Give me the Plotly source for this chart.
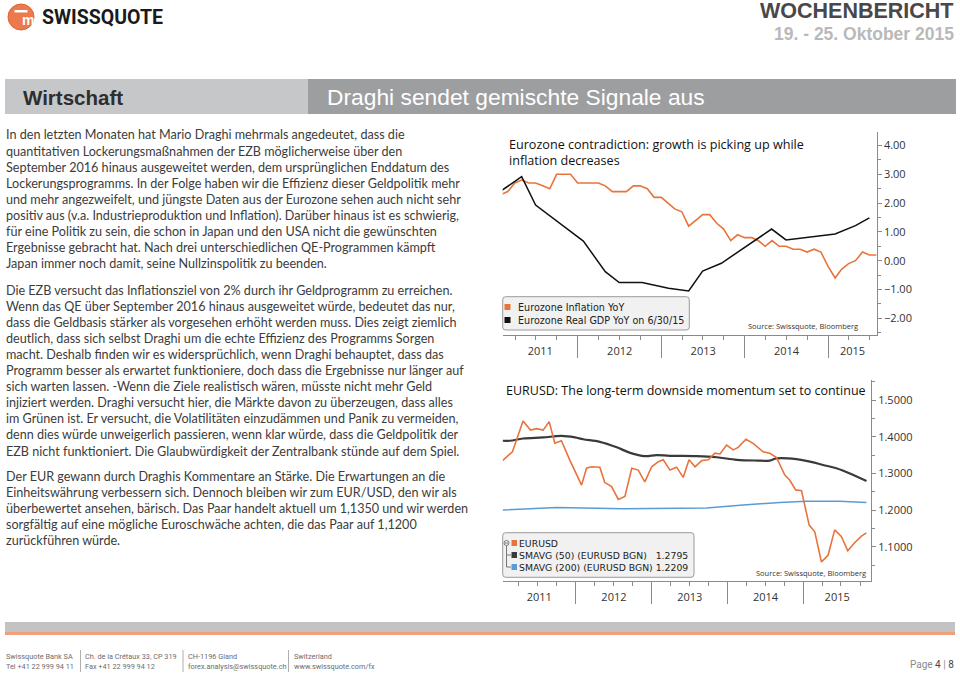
import plotly.graph_objects as go
import pandas as pd

W, H = 960, 676


def px(x):
    return x / W


def py(y):
    return 1 - y / H


# ---------------- DATA ----------------
years = [2011, 2012, 2013, 2014, 2015]

infl_dates = pd.date_range("2011-01-31", periods=55, freq=pd.offsets.MonthEnd())
infl_values = [2.3, 2.4, 2.7, 2.8, 2.7, 2.7, 2.6, 2.5, 3.0, 3.0, 3.0, 2.7,
               2.7, 2.7, 2.7, 2.6, 2.4, 2.4, 2.4, 2.6, 2.6, 2.5, 2.2, 2.2,
               2.0, 1.8, 1.7, 1.2, 1.4, 1.6, 1.6, 1.3, 1.1, 0.7, 0.9, 0.8,
               0.8, 0.7, 0.5, 0.7, 0.5, 0.5, 0.4, 0.4, 0.3, 0.4, 0.3, -0.2,
               -0.6, -0.3, -0.1, 0.0, 0.3, 0.2, 0.2]

gdp_dates = ["2011-01-31", "2011-04-30", "2011-06-30", "2011-09-30", "2012-01-25",
             "2012-04-30", "2012-06-30", "2012-10-08", "2013-02-01", "2013-04-30",
             "2013-06-30", "2013-09-20", "2014-04-28", "2014-06-30", "2015-01-31",
             "2015-04-30", "2015-06-30"]
gdp_values = [2.43, 2.92, 1.93, 1.38, 0.68, -0.38, -0.76, -0.76, -0.96, -1.05,
              -0.36, -0.09, 1.10, 0.72, 0.93, 1.22, 1.49]

eur_dates = ["2011-01-12", "2011-03-01", "2011-04-21", "2011-05-27", "2011-06-25",
             "2011-07-27", "2011-08-25", "2011-09-21", "2011-10-23", "2011-12-02",
             "2012-01-28", "2012-02-21", "2012-03-16", "2012-04-25", "2012-05-19",
             "2012-06-21", "2012-07-23", "2012-08-24", "2012-09-26", "2012-10-27",
             "2012-11-28", "2012-12-31", "2013-02-01", "2013-02-25", "2013-03-29",
             "2013-04-30", "2013-06-01", "2013-06-29", "2013-07-28", "2013-08-29",
             "2013-09-30", "2013-11-01", "2013-11-25", "2013-12-27", "2014-01-28",
             "2014-02-21", "2014-03-30", "2014-05-04", "2014-06-21", "2014-07-23",
             "2014-08-24", "2014-10-03", "2014-10-27", "2014-11-25", "2014-12-23",
             "2015-01-29", "2015-02-25", "2015-03-29", "2015-04-30", "2015-06-01",
             "2015-07-03", "2015-08-03", "2015-09-05", "2015-10-08", "2015-11-01"]
eur_values = [1.335, 1.359, 1.443, 1.418, 1.422, 1.418, 1.441, 1.382, 1.389, 1.337,
              1.268, 1.314, 1.318, 1.317, 1.275, 1.264, 1.229, 1.237, 1.314, 1.309,
              1.277, 1.318, 1.332, 1.337, 1.309, 1.317, 1.289, 1.337, 1.318, 1.335,
              1.337, 1.355, 1.353, 1.377, 1.364, 1.371, 1.393, 1.382, 1.359, 1.355,
              1.344, 1.296, 1.282, 1.255, 1.253, 1.159, 1.141, 1.059, 1.077, 1.146,
              1.128, 1.089, 1.111, 1.129, 1.138]

sma50_dates = ["2011-01-12", "2011-02-17", "2011-04-21", "2011-07-27", "2011-10-23",
               "2011-12-27", "2012-02-05", "2012-04-25", "2012-07-16", "2012-09-18",
               "2012-11-28", "2013-01-24", "2013-03-29", "2013-08-05", "2013-11-09",
               "2014-02-14", "2014-05-21", "2014-07-23", "2014-08-24", "2014-11-28",
               "2015-02-01", "2015-04-06", "2015-06-09", "2015-08-13", "2015-11-01"]
sma50_values = [1.389, 1.389, 1.395, 1.398, 1.402, 1.398, 1.393, 1.386, 1.371, 1.356,
                1.347, 1.350, 1.348, 1.347, 1.344, 1.337, 1.335, 1.335, 1.341, 1.339,
                1.332, 1.323, 1.314, 1.300, 1.2795]

sma200_dates = ["2011-01-12", "2011-09-29", "2012-08-16", "2013-09-22", "2014-03-17",
                "2014-09-09", "2015-01-16", "2015-06-25", "2015-11-01"]
sma200_values = [1.200, 1.207, 1.204, 1.206, 1.214, 1.221, 1.224, 1.224, 1.2209]

y1_ticks = [-2, -1, 0, 1, 2, 3, 4]
y2_ticks = [1.1, 1.2, 1.3, 1.4, 1.5]

legend1 = [("Eurozone Inflation YoY", "#e8743b"),
           ("Eurozone Real GDP YoY on 6/30/15", "#111111")]
legend2 = [("EURUSD", "#e8743b"),
           ("SMAVG (50) (EURUSD BGN)&nbsp;&nbsp;&nbsp;1.2795", "#3a3a3a"),
           ("SMAVG (200) (EURUSD BGN) 1.2209", "#5b9bd5")]

para1 = [
    "In den letzten Monaten hat Mario Draghi mehrmals angedeutet, dass die",
    "quantitativen Lockerungsmaßnahmen der EZB möglicherweise über den",
    "September 2016 hinaus ausgeweitet werden, dem ursprünglichen Enddatum des",
    "Lockerungsprogramms. In der Folge haben wir die Effizienz dieser Geldpolitik mehr",
    "und mehr angezweifelt, und jüngste Daten aus der Eurozone sehen auch nicht sehr",
    "positiv aus (v.a. Industrieproduktion und Inflation). Darüber hinaus ist es schwierig,",
    "für eine Politik zu sein, die schon in Japan und den USA nicht die gewünschten",
    "Ergebnisse gebracht hat. Nach drei unterschiedlichen QE-Programmen kämpft",
    "Japan immer noch damit, seine Nullzinspolitik zu beenden.",
]
para2 = [
    "Die EZB versucht das Inflationsziel von 2% durch ihr Geldprogramm zu erreichen.",
    "Wenn das QE über September 2016 hinaus ausgeweitet würde, bedeutet das nur,",
    "dass die Geldbasis stärker als vorgesehen erhöht werden muss. Dies zeigt ziemlich",
    "deutlich, dass sich selbst Draghi um die echte Effizienz des Programms Sorgen",
    "macht. Deshalb finden wir es widersprüchlich, wenn Draghi behauptet, dass das",
    "Programm besser als erwartet funktioniere, doch dass die Ergebnisse nur länger auf",
    "sich warten lassen. -Wenn die Ziele realistisch wären, müsste nicht mehr Geld",
    "injiziert werden. Draghi versucht hier, die Märkte davon zu überzeugen, dass alles",
    "im Grünen ist. Er versucht, die Volatilitäten einzudämmen und Panik zu vermeiden,",
    "denn dies würde unweigerlich passieren, wenn klar würde, dass die Geldpolitik der",
    "EZB nicht funktioniert. Die Glaubwürdigkeit der Zentralbank stünde auf dem Spiel.",
]
para3 = [
    "Der EUR gewann durch Draghis Kommentare an Stärke. Die Erwartungen an die",
    "Einheitswährung verbessern sich. Dennoch bleiben wir zum EUR/USD, den wir als",
    "überbewertet ansehen, bärisch. Das Paar handelt aktuell um 1,1350 und wir werden",
    "sorgfältig auf eine mögliche Euroschwäche achten, die das Paar auf 1,1200",
    "zurückführen würde.",
]

footer_cols = [
    (5, "Swissquote Bank SA", "Tel +41 22 999 94 11"),
    (84, "Ch. de la Crétaux 33, CP 319", "Fax +41 22 999 94 12"),
    (187, "CH-1196 Gland", "forex.analysis@swissquote.ch"),
    (293, "Switzerland", "www.swissquote.com/fx"),
]

# ---------------- STYLE ----------------
ORANGE = "#e8743b"
AXIS = "#8a8a8a"
TICKF = dict(family="Open Sans, DejaVu Sans, sans-serif", size=11, color="#333333")
CHARTF = "Open Sans, DejaVu Sans, sans-serif"
LEGF = "DejaVu Sans, Open Sans, sans-serif"
BODYF = "Lato, Noto Sans, sans-serif"
BODYC = "#3c3c3c"

range1 = ["2011-02-06", "2015-08-01"]
range2 = ["2011-01-13", "2015-11-23"]


def period_centers(rng):
    lo, hi = pd.Timestamp(rng[0]), pd.Timestamp(rng[1])
    out = []
    for yr in years:
        a = max(lo, pd.Timestamp(f"{yr}-01-01"))
        b = min(hi, pd.Timestamp(f"{yr + 1}-01-01"))
        out.append(a + (b - a) / 2)
    return out


fig = go.Figure()

# chart 1
fig.add_trace(go.Scatter(x=infl_dates, y=infl_values, mode="lines",
                         line=dict(color=ORANGE, width=1.6), xaxis="x", yaxis="y",
                         name="Eurozone Inflation YoY"))
fig.add_trace(go.Scatter(x=gdp_dates, y=gdp_values, mode="lines",
                         line=dict(color="#111111", width=1.5), xaxis="x3", yaxis="y",
                         name="Eurozone Real GDP YoY on 6/30/15"))
# chart 2
fig.add_trace(go.Scatter(x=sma200_dates, y=sma200_values, mode="lines",
                         line=dict(color="#5b9bd5", width=1.5), xaxis="x4", yaxis="y2",
                         name="SMAVG (200)"))
fig.add_trace(go.Scatter(x=sma50_dates, y=sma50_values, mode="lines", line_shape="spline",
                         line=dict(color="#3a3a3a", width=2.2), xaxis="x2", yaxis="y2",
                         name="SMAVG (50)"))
fig.add_trace(go.Scatter(x=eur_dates, y=eur_values, mode="lines",
                         line=dict(color=ORANGE, width=1.6), xaxis="x2", yaxis="y2",
                         name="EURUSD"))


def main_xaxis(dom, rng, anchor):
    return dict(domain=dom, range=rng, anchor=anchor, type="date",
                showline=True, linecolor=AXIS, linewidth=1,
                showgrid=False, zeroline=False,
                tickmode="array", tickvals=period_centers(rng), ticktext=[str(y) for y in years],
                ticks="", tickfont=TICKF, ticklabelstandoff=6,
                minor=dict(tickmode="array",
                           tickvals=[f"{y}-01-01" for y in years if pd.Timestamp(f"{y}-01-01") > pd.Timestamp(rng[0])],
                           ticks="outside", ticklen=22, tickcolor=AXIS, tickwidth=1, showgrid=False))


def over_xaxis(dom, rng, anchor, over):
    return dict(domain=dom, range=rng, anchor=anchor, overlaying=over, type="date",
                showline=False, showgrid=False, zeroline=False, showticklabels=False,
                tick0="2011-01-01", dtick="M3", ticks="outside", ticklen=4,
                tickcolor=AXIS, tickwidth=1)


dom1x = [px(502.7), px(876.7)]
dom2x = [px(502.7), px(871)]

fig.update_layout(
    width=W, height=676, margin=dict(l=0, r=0, t=0, b=0),
    paper_bgcolor="white", plot_bgcolor="white", showlegend=False,
    xaxis=main_xaxis(dom1x, range1, "y"),
    xaxis3=over_xaxis(dom1x, range1, "y", "x"),
    xaxis2=main_xaxis(dom2x, range2, "y2"),
    xaxis4=over_xaxis(dom2x, range2, "y2", "x2"),
    yaxis=dict(domain=[py(335), py(131.7)], range=[-2.58, 4.48], anchor="x", side="right",
               showline=True, linecolor=AXIS, showgrid=False, zeroline=False,
               tickmode="array", tickvals=y1_ticks, tickformat=".2f",
               ticks="outside", ticklen=4, tickcolor=AXIS, tickfont=TICKF,
               minor=dict(dtick=0.5, ticks="outside", ticklen=3, tickcolor=AXIS)),
    yaxis2=dict(domain=[py(580.7), py(380)], range=[1.0076, 1.5545], anchor="x2", side="right",
                showline=True, linecolor=AXIS, showgrid=False, zeroline=False,
                tickmode="array", tickvals=y2_ticks, tickformat=".4f",
                ticks="outside", ticklen=4, tickcolor=AXIS, tickfont=TICKF,
                minor=dict(dtick=0.05, ticks="outside", ticklen=3, tickcolor=AXIS)),
)

shapes = []
ann = []


def rect(x0, y0, x1, y1, fill, line=None, lw=0):
    shapes.append(dict(type="rect", xref="paper", yref="paper",
                       x0=px(x0), x1=px(x1), y0=py(y1), y1=py(y0),
                       fillcolor=fill, line=dict(color=line or fill, width=lw), layer="above"))


def rrect(x0, y0, x1, y1, r, fill, line):
    X = lambda v: px(v)
    Y = lambda v: py(v)
    path = (f"M {X(x0 + r)},{Y(y0)} L {X(x1 - r)},{Y(y0)} Q {X(x1)},{Y(y0)} {X(x1)},{Y(y0 + r)} "
            f"L {X(x1)},{Y(y1 - r)} Q {X(x1)},{Y(y1)} {X(x1 - r)},{Y(y1)} "
            f"L {X(x0 + r)},{Y(y1)} Q {X(x0)},{Y(y1)} {X(x0)},{Y(y1 - r)} "
            f"L {X(x0)},{Y(y0 + r)} Q {X(x0)},{Y(y0)} {X(x0 + r)},{Y(y0)} Z")
    shapes.append(dict(type="path", xref="paper", yref="paper", path=path,
                       fillcolor=fill, line=dict(color=line, width=1), layer="above"))


def line(x0, y0, x1, y1, color, w=1):
    shapes.append(dict(type="line", xref="paper", yref="paper",
                       x0=px(x0), x1=px(x1), y0=py(y0), y1=py(y1),
                       line=dict(color=color, width=w), layer="above"))


def text(x, y, s, size, color, family=BODYF, xanchor="left", yanchor="middle"):
    ann.append(dict(xref="paper", yref="paper", x=px(x), y=py(y), text=s,
                    showarrow=False, xanchor=xanchor, yanchor=yanchor, borderpad=0,
                    font=dict(family=family, size=size, color=color)))


HEADF = "Liberation Sans, Arial, sans-serif"

# ---- header ----
shapes.append(dict(type="circle", xref="paper", yref="paper",
                   x0=px(8), x1=px(34), y0=py(30), y1=py(4),
                   fillcolor="#ec7a4c", line=dict(color="#d9663a", width=1)))
rect(14.5, 10, 27.5, 12.5, "white")
text(21, 19.5, "<b>m</b>", 14, "white", family=HEADF)
text(41, 17.5, "<b>SWISSQUOTE</b>", 19.5, "#1a1a1a",
     family="Roboto, Liberation Sans, sans-serif")
text(955, 11, "<b>WOCHENBERICHT</b>", 21.5, "#4a4748", family=HEADF, xanchor="right")
text(955, 34, "<b>19. - 25. Oktober 2015</b>", 17.5, "#b9b9b9", family=HEADF, xanchor="right")
rect(5, 79, 308, 114, "#c6c7c8")
rect(308, 79, 956, 114, "#9d9ea0")
text(22, 97, "<b>Wirtschaft</b>", 20.5, "#2e2e2e", family=HEADF)
text(326, 97, "Draghi sendet gemischte Signale aus", 22.8, "white", family=HEADF)

# ---- body text ----
for i, s in enumerate(para1):
    text(5, 135 + i * 16.1, s, 12.6, BODYC)
for i, s in enumerate(para2):
    text(5, 290 + i * 16.1, s, 12.6, BODYC)
for i, s in enumerate(para3):
    text(5, 476 + i * 16.1, s, 12.6, BODYC)

# ---- chart 1 decorations ----
text(508, 144.5, "Eurozone contradiction: growth is picking up while", 12.6, "#111111", family=CHARTF)
text(508, 160, "inflation decreases", 12.6, "#111111", family=CHARTF)
rrect(502.7, 296.7, 689.3, 330, 3, "#f1f1f1", "#9a9a9a")
for i, (lab, col) in enumerate(legend1):
    yy = 307 + i * 13
    rect(504.5, yy - 3, 510.5, yy + 3, col)
    text(516.5, yy, lab, 9.6, "#222222", family=LEGF)
text(859, 326.5, "Source: Swissquote, Bloomberg", 7.5, "#333333", family=CHARTF, xanchor="right")

# ---- chart 2 decorations ----
text(505, 390.7, "EURUSD: The long-term downside momentum set to continue", 12.5, "#111111", family=CHARTF)
rrect(502.7, 532.7, 694, 577.3, 3, "#f1f1f1", "#9a9a9a")
shapes.append(dict(type="circle", xref="paper", yref="paper",
                   x0=px(504), x1=px(509), y0=py(545.5), y1=py(540.5),
                   fillcolor="#f1f1f1", line=dict(color="#777777", width=1), layer="above"))
line(505, 543, 508, 543, "#777777")
line(506.5, 545.5, 506.5, 567, "#777777")
line(506.5, 555, 511, 555, "#777777")
line(506.5, 567, 511, 567, "#777777")
for i, (lab, col) in enumerate(legend2):
    yy = 543 + i * 12
    rect(511.5, yy - 3, 517, yy + 3, col)
    text(518, yy, lab, 9.3, "#222222", family=LEGF)
text(866.7, 573.3, "Source: Swissquote, Bloomberg", 7.5, "#333333", family=CHARTF, xanchor="right")

# ---- footer ----
rect(5, 622, 955, 632, "#c3c3c3")
rect(5, 632, 955, 635, "#f0a07a")
FOOTF = "Roboto, Liberation Sans, sans-serif"
for x, a, b in footer_cols:
    text(x, 656, a, 7.3, "#6d6d6d", family=FOOTF)
    text(x, 666.5, b, 7.3, "#6d6d6d", family=FOOTF)
for x in (80.5, 183, 288.5):
    line(x, 650, x, 672, "#9a9a9a", 0.8)
text(955, 664, "Page <span style='color:#444'>4</span> | <span style='color:#444'>8</span>",
     10, "#8a8a8a", family=FOOTF, xanchor="right")

fig.update_layout(shapes=shapes, annotations=ann)
fig.write_html("out.html", include_plotlyjs=True, config={"displayModeBar": False})

# remove the browser's default page margin so the figure sits at (0, 0)
with open("out.html", "r", encoding="utf-8") as f:
    html = f.read()
html = html.replace("<head>", "<head><style>html,body{margin:0;padding:0;overflow:hidden;}</style>", 1)
with open("out.html", "w", encoding="utf-8") as f:
    f.write(html)
